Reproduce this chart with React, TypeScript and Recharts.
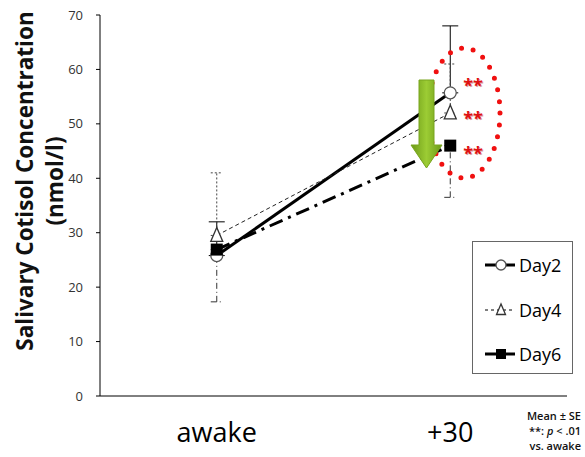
import React from 'react';
import { ComposedChart, Line, XAxis, YAxis, ErrorBar, LabelList } from 'recharts';

const categories = ['awake', '+30'];
const day2 = [25.8, 55.7];
const day4 = [29.5, 52.0];
const day6 = [26.9, 46.0];
const day2ErrUp = [6.2, 12.3];
const day4ErrUp = [11.5, 9.0];
const day6ErrDown = [9.6, 9.5];
const yTicks = [0, 10, 20, 30, 40, 50, 60, 70];
const seriesNames = ['Day2', 'Day4', 'Day6'];
const sigMarks = ['', '**'];
const notes = ['Mean \u00b1 SE', '**: p < .01', 'vs. awake'];
const yTitle = ['Salivary Cotisol Concentration', '(nmol/l)'];

const data = categories.map((c, i) => ({
  time: c,
  day2: day2[i],
  day4: day4[i],
  day6: day6[i],
  e2: [0, day2ErrUp[i]],
  e4: [0, day4ErrUp[i]],
  e6: [day6ErrDown[i], 0],
  sig: sigMarks[i],
}));

const FONT = '"Open Sans", "DejaVu Sans", sans-serif';

const CircleMark = ({ cx, cy, r = 6 }: any) => (
  <circle cx={cx} cy={cy} r={r} fill="#fff" stroke="#555" strokeWidth={1.3} />
);
const TriMark = ({ cx, cy, s = 1 }: any) => (
  <polygon
    points={`${cx},${cy - 8 * s} ${cx - 6 * s},${cy + 6 * s} ${cx + 6 * s},${cy + 6 * s}`}
    fill="#fff"
    stroke="#333"
    strokeWidth={1.3}
  />
);
const SqMark = ({ cx, cy, h = 6 }: any) => (
  <rect x={cx - h} y={cy - h} width={h * 2} height={h * 2} fill="#000" />
);

const dot2 = (p: any) => <CircleMark key={`d2-${p.index}`} cx={p.cx} cy={p.cy} />;
const dot4 = (p: any) => <TriMark key={`d4-${p.index}`} cx={p.cx} cy={p.cy} />;
const dot6 = (p: any) => <SqMark key={`d6-${p.index}`} cx={p.cx} cy={p.cy} />;

const sigLabel = (dy: number) => (p: any) => {
  if (!p.value) return null;
  return (
    <g>
      <text x={p.x + 14} y={p.y + dy + 1} fill="#d9a0a0" fontSize={18} fontWeight={700} fontFamily={FONT}>
        {p.value}
      </text>
      <text x={p.x + 13} y={p.y + dy} fill="#e01010" fontSize={18} fontWeight={700} fontFamily={FONT}>
        {p.value}
      </text>
    </g>
  );
};

const LegendBox = () => {
  const rows = [
    { name: seriesNames[0], dash: undefined, w: 3, mark: (x: number, y: number) => <CircleMark cx={x} cy={y} r={5} /> },
    { name: seriesNames[1], dash: '3 3', w: 1, mark: (x: number, y: number) => <TriMark cx={x} cy={y} s={0.75} /> },
    { name: seriesNames[2], dash: undefined, w: 3, mark: (x: number, y: number) => <SqMark cx={x} cy={y} h={5} /> },
  ];
  return (
    <div
      style={{
        position: 'absolute',
        left: 472,
        top: 241,
        width: 101,
        height: 133,
        border: '1px solid #666',
        background: '#fff',
        boxSizing: 'border-box',
      }}
    >
      {rows.map((r, i) => (
        <div key={r.name} style={{ position: 'absolute', left: 0, top: 8 + i * 44.5, height: 30, display: 'flex', alignItems: 'center' }}>
          <svg width={46} height={30} style={{ display: 'block' }}>
            <line x1={12} y1={15} x2={42} y2={15} stroke="#000" strokeWidth={r.w} strokeDasharray={r.dash} />
            {r.mark(28, 15)}
          </svg>
          <span style={{ fontFamily: FONT, fontSize: 18, fontWeight: 500, color: '#000', marginLeft: 0 }}>{r.name}</span>
        </div>
      ))}
    </div>
  );
};

export default function App() {
  return (
    <div style={{ position: 'absolute', left: 0, top: 0, width: 585, height: 457, background: '#fff', overflow: 'hidden' }}>
      <ComposedChart width={585} height={457} data={data} margin={{ top: 15, right: 18, bottom: 0, left: 0 }}>
        <XAxis
          dataKey="time"
          scale="band"
          height={61}
          axisLine={{ stroke: '#000', strokeWidth: 1 }}
          tickLine={false}
          tickSize={0}
          tickMargin={27}
          tick={{ fontSize: 27, fill: '#000', fontFamily: FONT }}
        />
        <YAxis
          width={100}
          domain={[0, 70]}
          ticks={yTicks}
          interval={0}
          axisLine={{ stroke: '#000', strokeWidth: 1 }}
          tickLine={{ stroke: '#000' }}
          tickSize={4}
          tickMargin={13}
          tick={{ fontSize: 13, fill: '#333', fontFamily: FONT }}
        />
        <Line
          dataKey="day2"
          stroke="#000"
          strokeWidth={3}
          dot={dot2}
          activeDot={false}
          isAnimationActive={false}
        >
          <ErrorBar dataKey="e2" direction="y" width={8} stroke="#000" strokeWidth={1} />
          <LabelList dataKey="sig" content={sigLabel(-1)} />
        </Line>
        <Line
          dataKey="day4"
          stroke="#222"
          strokeWidth={1}
          strokeDasharray="4 3"
          dot={dot4}
          activeDot={false}
          isAnimationActive={false}
        >
          <ErrorBar dataKey="e4" direction="y" width={6} stroke="#444" strokeWidth={1} strokeDasharray="2 2" />
          <LabelList dataKey="sig" content={sigLabel(12)} />
        </Line>
        <Line
          dataKey="day6"
          stroke="#000"
          strokeWidth={3}
          strokeDasharray="14 6 3 6"
          dot={dot6}
          activeDot={false}
          isAnimationActive={false}
        >
          <ErrorBar dataKey="e6" direction="y" width={6} stroke="#333" strokeWidth={1} strokeDasharray="6 3 1 3" />
          <LabelList dataKey="sig" content={sigLabel(14)} />
        </Line>
      </ComposedChart>
      <svg width={585} height={457} style={{ position: 'absolute', left: 0, top: 0, pointerEvents: 'none' }}>
        <defs>
          <linearGradient id="grn" x1="0" x2="1" y1="0" y2="0">
            <stop offset="0" stopColor="#6c9a18" />
            <stop offset="0.5" stopColor="#9ccc34" />
            <stop offset="1" stopColor="#6c9a18" />
          </linearGradient>
        </defs>
        <ellipse cx={464} cy={113} rx={36} ry={65} fill="none" stroke="#f01010" strokeWidth={5} strokeLinecap="round" strokeDasharray="0 12" />
        <polygon
          points="419,80 434,80 434,145 442,145 426.5,168 411,145 419,145"
          fill="url(#grn)"
          stroke="#79a51f"
          strokeWidth={1}
        />
        <g fontFamily={FONT} fontWeight={700} fill="#111" fontSize={22.5}>
          <text transform="translate(33,181) rotate(-90)" textAnchor="middle">{yTitle[0]}</text>
          <text transform="translate(63,181) rotate(-90)" textAnchor="middle">{yTitle[1]}</text>
        </g>
        <g fontFamily={FONT} fontWeight={600} fill="#111" fontSize={11} textAnchor="end">
          <text x={581} y={420}>{notes[0]}</text>
          <text x={581} y={435}>
            <tspan>**: </tspan>
            <tspan fontStyle="italic">p</tspan>
            <tspan> &lt; .01</tspan>
          </text>
          <text x={581} y={450}>{notes[2]}</text>
        </g>
      </svg>
      <LegendBox />
    </div>
  );
}
